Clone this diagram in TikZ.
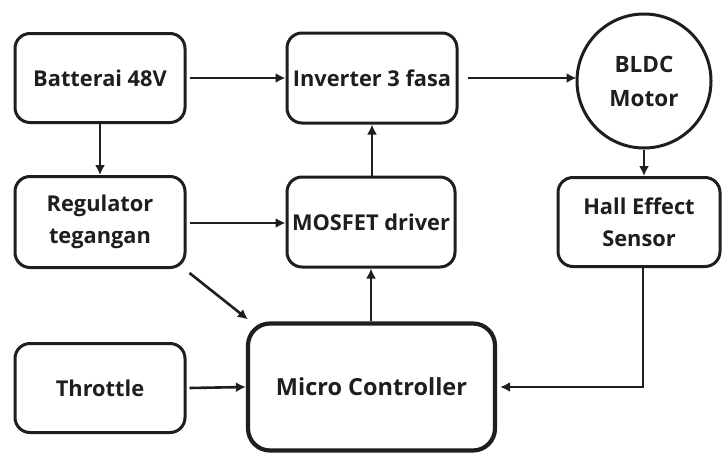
\documentclass[tikz,border=0pt]{standalone}
\usepackage{fontspec}
\setmainfont{Open Sans}
\usetikzlibrary{arrows.meta}
\definecolor{ink}{HTML}{1E1E1E}
\begin{document}
\begin{tikzpicture}[x=1pt,y=-1pt,
  blockbox/.style={draw=ink,line width=3pt,rounded corners=15pt,fill=white,
    text=ink,font=\bfseries\fontsize{21.8}{32}\selectfont,align=center,
    inner sep=0pt},
  flow/.style={draw=ink,line width=2.6pt,-{Latex[length=10pt,width=10pt]}}]
\useasboundingbox (0,0) rectangle (723,453);
% blocks: positioned by their centres
\node[blockbox,minimum width=170pt,minimum height=89pt] (bat) at (100,78) {Batterai 48V};
\node[blockbox,minimum width=170pt,minimum height=90pt] (inv) at (372,78) {Inverter 3 fasa};
\node[draw=ink,line width=3pt,circle,minimum size=134pt,inner sep=0pt,text=ink,
      font=\bfseries\fontsize{22.5}{34}\selectfont,align=center] (bldc) at (644,81) {BLDC\\Motor};
\node[blockbox,minimum width=170pt,minimum height=91pt] (reg) at (100,222) {Regulator\\tegangan};
\node[blockbox,minimum width=168pt,minimum height=90pt] (mos) at (371,222) {MOSFET driver};
\node[blockbox,minimum width=162pt,minimum height=89pt] (hall) at (639,222) {Hall Effect\\Sensor};
\node[blockbox,minimum width=170pt,minimum height=89pt] (thr) at (100,388) {Throttle};
\node[blockbox,line width=4.2pt,rounded corners=22pt,minimum width=247pt,minimum height=127pt,
      font=\bfseries\fontsize{23.5}{32}\selectfont] (mcu) at (371.5,387) {Micro Controller};
% connectors
\draw[flow] ([xshift=3pt]bat.east) -- (inv.west);
\coordinate (motorin) at (bldc.west |- inv.east);
\draw[flow] ([xshift=9pt]inv.east) -- ([xshift=1pt]motorin);
\draw[flow] (bat.south) -- (reg.north);
\draw[flow] (bldc.south) -- (bldc.south |- hall.north);
\draw[flow] ([xshift=3pt,yshift=-1pt]reg.east) -- ([yshift=-1pt]mos.west);
\draw[flow] ([xshift=3pt,yshift=-4pt]reg.south east) -- ([xshift=2pt,yshift=2pt]mcu.north west);
\draw[flow] (mos.north -| inv.south) -- (inv.south);
\draw[flow] (mcu.north -| mos.south) -- (mos.south);
\draw[flow] ([xshift=3pt]thr.east) -- (mcu.west);
\coordinate (turn) at (hall.south |- mcu.east);
\draw[flow] ([xshift=4pt]hall.south) -- ([xshift=4pt]turn) -- ([xshift=3pt]mcu.east);
\end{tikzpicture}
\end{document}
